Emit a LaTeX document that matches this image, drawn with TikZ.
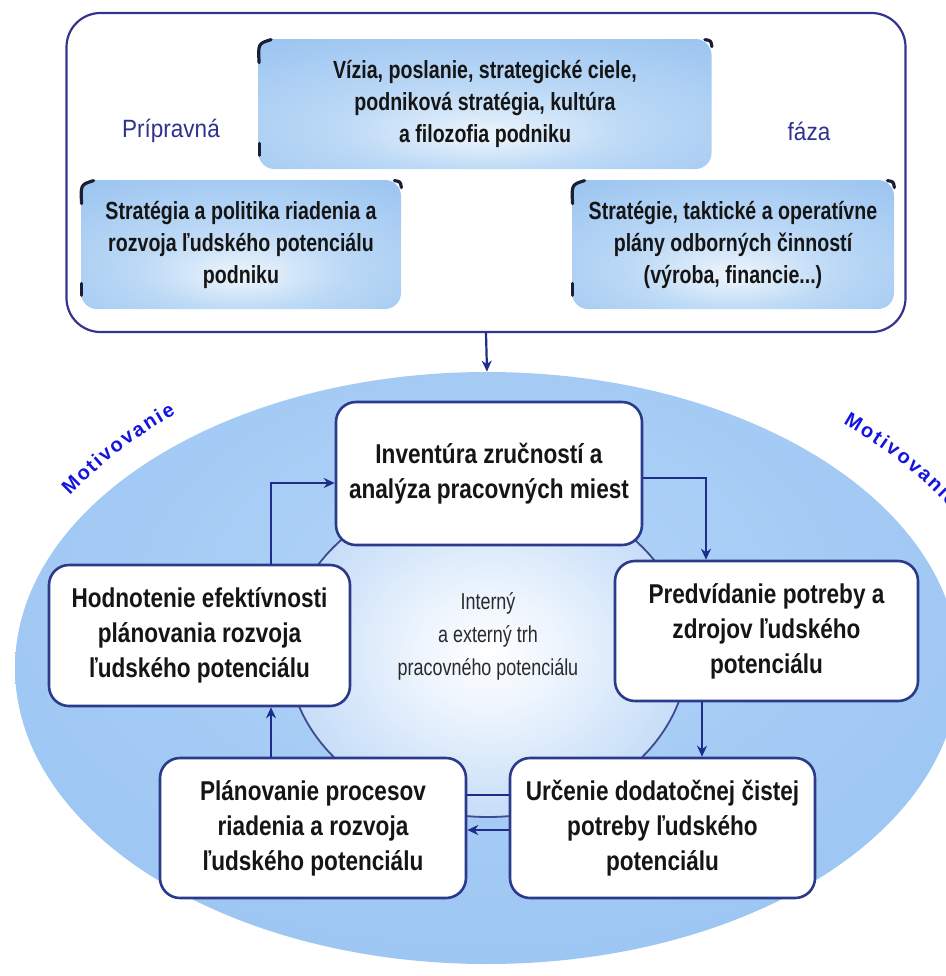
\documentclass[tikz,border=0pt]{standalone}
\usepackage{fontspec}
\setmainfont{Liberation Sans}
\newfontfamily\cyclefont{Liberation Sans}[FakeStretch=0.83]
\newfontfamily\prepfont{Liberation Sans}[FakeStretch=0.79]
\newfontfamily\phasefont{Liberation Sans}[FakeStretch=0.9]
\newfontfamily\marketfont{Liberation Sans}[FakeStretch=0.78]
\usetikzlibrary{arrows.meta,shapes.geometric,calc,decorations.text}

\definecolor{navy}{HTML}{34348F}
\definecolor{boxblue}{HTML}{2B3A8A}
\definecolor{arrowblue}{HTML}{1E2C8C}
\definecolor{phaseblue}{HTML}{2E318F}
\definecolor{motblue}{HTML}{1414E0}
\definecolor{textblack}{HTML}{151515}
\definecolor{midtext}{HTML}{2A2A2A}
\definecolor{cornerdark}{HTML}{1B1F33}
\definecolor{ringline}{HTML}{3C4C8E}
\definecolor{prepin}{HTML}{EEF5FC}
\definecolor{prepmid}{HTML}{BCD9F6}
\definecolor{prepout}{HTML}{8CBBEE}
\definecolor{innerA}{HTML}{EAF3FD}
\definecolor{innerB}{HTML}{8CBAEF}
\definecolor{bigA}{HTML}{B2D4F8}
\definecolor{bigB}{HTML}{9DC6F3}

\pgfdeclareradialshading{prepshade}{\pgfpoint{0bp}{-12bp}}{%
  color(0bp)=(prepin); color(16bp)=(prepmid); color(50bp)=(prepout); color(80bp)=(prepout)}
\pgfdeclareradialshading{innershade}{\pgfpoint{0bp}{0bp}}{%
  color(0bp)=(white); color(10bp)=(innerA); color(50bp)=(innerB); color(80bp)=(innerB)}
\pgfdeclareradialshading{bigshade}{\pgfpoint{0bp}{8bp}}{%
  color(0bp)=(bigA); color(30bp)=(bigB); color(80bp)=(bigB)}

\tikzset{
  prepbox/.style={shading=prepshade, rounded corners=8pt, align=center,
    inner sep=0pt, text=textblack,
    font=\prepfont\bfseries\fontsize{12.4}{16}\selectfont},
  cyclebox/.style={draw=boxblue, line width=1.3pt, fill=white, rounded corners=10pt,
    align=center, inner sep=0pt, text=textblack,
    font=\cyclefont\bfseries\fontsize{13.6}{17.5}\selectfont},
  phaseword/.style={text=phaseblue, font=\phasefont\fontsize{12.5}{15}\selectfont},
  cmark/.style={draw=cornerdark, line width=1.6pt, line cap=round},
  arr/.style={draw=arrowblue, line width=1.1pt, -{Stealth[length=5.5pt,width=5pt]}},
  plainline/.style={draw=arrowblue, line width=1.1pt},
  motpath/.style={decorate, decoration={text along path, text align=fit to path,
    text color=motblue, text={|\bfseries\fontsize{10}{12}\selectfont|Motivovanie}}}
}

% dark corner fragments on the shaded boxes
\newcommand{\cornermarks}[1]{%
  \draw[cmark] ($(#1.north west)+(1,24)$) .. controls ($(#1.north west)+(0,5)$) .. ($(#1.north west)+(13,1)$);
  \draw[cmark] ($(#1.north east)+(-7,1)$) .. controls ($(#1.north east)+(-1,2)$) .. ($(#1.north east)+(0,8)$);
  \draw[cmark] ($(#1.south west)+(1,-26)$) -- ($(#1.south west)+(1,-14)$);
}

\begin{document}
\begin{tikzpicture}[x=0.5pt,y=-0.5pt]
\useasboundingbox (0,0) rectangle (946,976);

% preparatory phase frame
\node[draw=navy, line width=1.1pt, rounded corners=17pt, minimum width=419.5pt,
  minimum height=159.5pt, inner sep=0pt] (prep) at (486,172.5) {};

\node[prepbox, minimum width=226.5pt, minimum height=65pt] (vis) at (485,104)
  {Vízia, poslanie, strategické ciele,\\podniková stratégia, kultúra\\a filozofia podniku};
\node[prepbox, minimum width=160pt, minimum height=64.5pt] (strl) at (241,244.5)
  {Stratégia a politika riadenia a\\rozvoja ľudského potenciálu\\podniku};
\node[prepbox, minimum width=161pt, minimum height=64.5pt] (strr) at (733,244.5)
  {Stratégie, taktické a operatívne\\plány odborných činností\\(výroba, financie...)};
\cornermarks{vis}
\cornermarks{strl}
\cornermarks{strr}

\node[phaseword] (w1) at (171,131) {Prípravná};
\node[phaseword] (w2) at (809,131) {fáza};

% planning cycle
\node[ellipse, shading=bigshade, minimum width=472pt, minimum height=296pt,
  inner sep=0pt] (bigE) at (487,668) {};
\node[ellipse, shading=innershade, draw=ringline, line width=0.9pt,
  minimum width=200pt, minimum height=165pt, inner sep=0pt] (innerE) at (488,652) {};
\node[text=midtext, align=center, font=\marketfont\fontsize{11.5}{16.5}\selectfont]
  (market) at (488,636) {Interný\\a externý trh\\pracovného potenciálu};

\node[cyclebox, minimum width=153pt, minimum height=71.5pt] (inv) at (489,473.5)
  {Inventúra zručností a\\analýza pracovných miest};
\node[cyclebox, minimum width=151.5pt, minimum height=70pt] (pred) at (766.5,631)
  {Predvídanie potreby a\\zdrojov ľudského\\potenciálu};
\node[cyclebox, minimum width=152.5pt, minimum height=70pt] (urc) at (662.5,828)
  {Určenie dodatočnej čistej\\potreby ľudského\\potenciálu};
\node[cyclebox, minimum width=153pt, minimum height=70pt] (plan) at (313,828)
  {Plánovanie procesov\\riadenia a rozvoja\\ľudského potenciálu};
\node[cyclebox, minimum width=150.5pt, minimum height=70.5pt] (hod) at (199.5,635.5)
  {Hodnotenie efektívnosti\\plánovania rozvoja\\ľudského potenciálu};

% connector guide lines
\coordinate (yA) at (0,478);
\coordinate (xA) at (706,0);
\coordinate (xB) at (702,0);
\coordinate (yC) at (0,795);
\coordinate (yD) at (0,830);
\coordinate (xE) at (271,0);
\coordinate (yF) at (0,483);

\draw[arr] (prep.south) -- (bigE.north);
\draw[arr] (inv.east |- yA) -| (pred.north -| xA);
\draw[arr] (pred.south -| xB) -- (urc.north -| xB);
\draw[plainline] (urc.west |- yC) -- (plan.east |- yC);
\draw[arr] (urc.west |- yD) -- (plan.east |- yD);
\draw[arr] (plan.north -| xE) -- (hod.south -| xE);
\draw[arr] (hod.north -| xE) |- (inv.west |- yF);

% motivation labels around the ellipse
\coordinate (mL1) at (70,496);
\coordinate (mL2) at (176,414);
\coordinate (mR1) at (843,424);
\coordinate (mR2) at (950,508);
\path[motpath] (mL1) to[bend left=8] (mL2);
\path[motpath] (mR1) to[bend left=8] (mR2);

\end{tikzpicture}
\end{document}
